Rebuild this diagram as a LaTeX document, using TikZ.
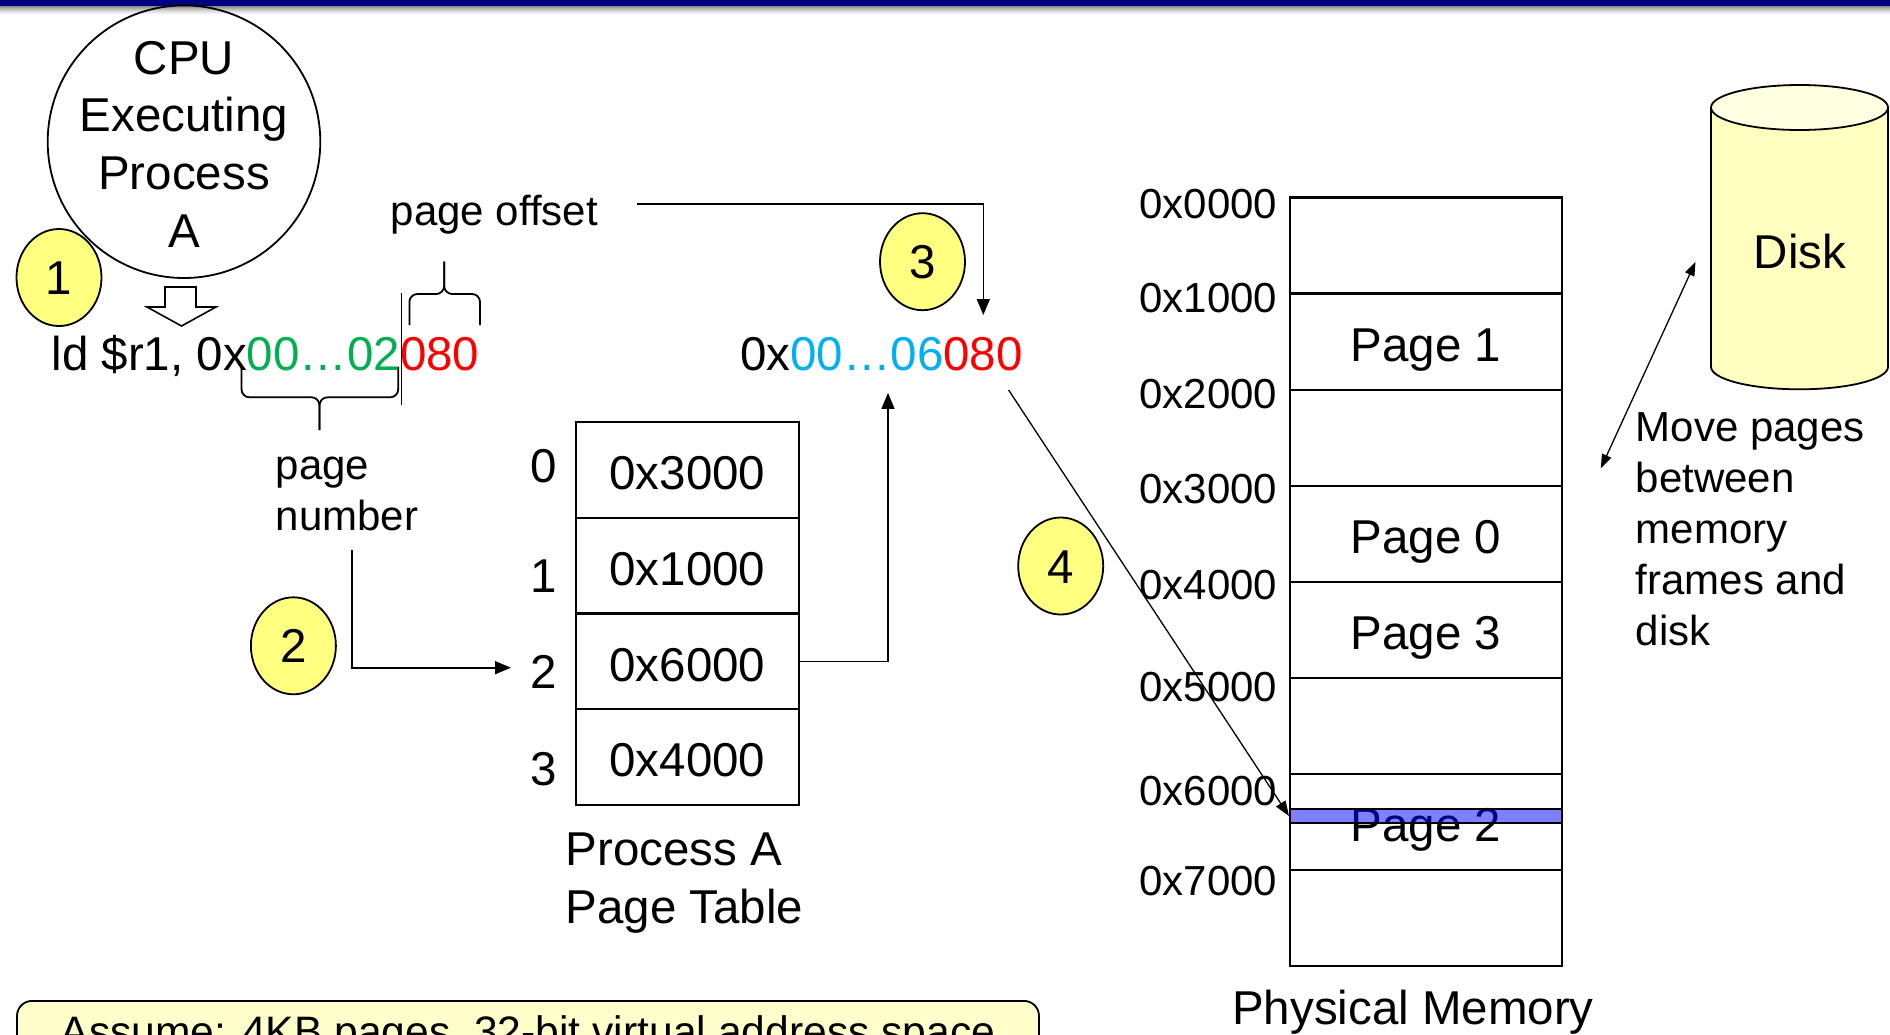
\documentclass[tikz,border=0pt]{standalone}
\usepackage{fontspec}
\setmainfont{Liberation Sans}
\usetikzlibrary{arrows.meta,shapes.geometric}
\definecolor{navy}{RGB}{0,0,128}
\definecolor{cyellow}{RGB}{255,255,128}
\definecolor{noteyellow}{RGB}{255,255,204}
\definecolor{diskside}{RGB}{255,255,192}
\definecolor{disktop}{RGB}{255,255,225}
\definecolor{agreen}{RGB}{0,176,80}
\definecolor{acyan}{RGB}{0,176,240}
\definecolor{ared}{RGB}{255,0,0}
\begin{document}
\begin{tikzpicture}[x=1pt,y=-1pt,
  big/.style={font=\fontsize{47.5}{57.7}\selectfont, inner sep=0pt},
  small/.style={font=\fontsize{42}{50.8}\selectfont, inner sep=0pt},
  numcirc/.style={draw, line width=1.8pt, fill=cyellow, ellipse, minimum width=85pt, minimum height=97pt, inner sep=0pt, font=\fontsize{47.5}{57}\selectfont, text height=34pt, text depth=0pt},
  conn/.style={line width=1.6pt, -{Triangle[length=16pt,width=13pt]}},
  ptrow/.style={draw, line width=2.4pt, minimum width=223pt, minimum height=95.75pt, inner sep=0pt},
  memrow/.style={draw, line width=2.4pt, minimum width=272pt, minimum height=96.03pt, inner sep=0pt},
  mlabel/.style={small, anchor=east, text height=30pt, text depth=0pt},
  rlabel/.style={big, text height=34pt, text depth=0pt},
  bracepath/.style={line width=1.8pt, rounded corners=8pt}
]
\useasboundingbox (0,0) rectangle (1890,1034);
\clip (0,0) rectangle (1890,1034);

% top bar with shadow
\fill[navy] (0,0) rectangle (1890,6);
\foreach \i/\g in {0/45,1/38,2/31,3/25,4/19,5/14,6/9,7/5,8/2}{
  \fill[black!\g] (0,6+\i) rectangle (1890,7+\i);
}

% CPU
\node[draw, circle, line width=1.8pt, minimum size=272.6pt, inner sep=0pt] (cpu) at (184,141.7) {};
\node[font=\fontsize{47.5}{57.7}\selectfont, align=center, inner sep=0pt] (cputext) at (184,144.2) {CPU\\Executing\\Process\\A};
\node[numcirc] (c1) at (59,277.5) {1};

% hollow arrow
\draw[line width=1.6pt, fill=white] (165,287) -- (196,287) -- (196,307) -- (216,307) -- (181.5,326) -- (147,307) -- (165,307) -- cycle;

% instruction
\node[big, anchor=base west] (instr) at (51.3,370.6) {ld \$r1, 0x\textcolor{agreen}{00…02}\textcolor{ared}{080}};
\draw[line width=1.6pt] (401.5,293) -- (401.5,405);

% braces
\draw[bracepath] (409.4,325) -- (409.4,294) -- (444.2,294) -- (444.2,261.7);
\draw[bracepath] (480,325) -- (480,294) -- (444.2,294) -- (444.2,261.7);
\draw[bracepath] (241.5,366.7) -- (241.5,397.3) -- (319.5,397.3) -- (319.5,430);
\draw[bracepath] (398.2,366.7) -- (398.2,397.3) -- (319.5,397.3) -- (319.5,430);

\node[small, anchor=base west] (poff) at (390.6,225) {page offset};
\node[small, anchor=north west, align=left, font=\fontsize{42}{51.2}\selectfont] (pnum) at (275.5,456.5) {page\\number};

% page table
\node[ptrow] (pt0) at (687.5,469.9) {};
\node[ptrow] (pt1) at (687.5,565.6) {};
\node[ptrow] (pt2) at (687.5,661.4) {};
\node[ptrow] (pt3) at (687.5,757.1) {};
\node[rlabel] (v0) at ([yshift=-2.6pt]pt0.center) {0x3000};
\node[rlabel] (v1) at ([yshift=-2.6pt]pt1.center) {0x1000};
\node[rlabel] (v2) at ([yshift=-2.6pt]pt2.center) {0x6000};
\node[rlabel] (v3) at ([yshift=-2.6pt]pt3.center) {0x4000};
\node[rlabel] (r0) at (543.6,465.5) {0};
\node[rlabel] (r1) at (543.6,575) {1};
\node[rlabel] (r2) at (543.6,671) {2};
\node[rlabel] (r3) at (543.6,768.8) {3};
\node[anchor=north west, align=left, inner sep=0pt, font=\fontsize{47.5}{58.3}\selectfont] (ptlabel) at (565.5,832.5) {Process A\\Page Table};

\node[numcirc] (c2) at (293.4,645.8) {2};
\coordinate (pn1) at (351.9,550.3);
\coordinate (pn2) at (511,667.7);
\draw[conn] (pn1) |- (pn2);

% physical address
\node[big, anchor=base west] (phys) at (740,370.6) {0x\textcolor{acyan}{00…06}\textcolor{ared}{080}};
\node[numcirc] (c3) at (922.5,261.7) {3};
\coordinate (po1) at (636.5,204);
\coordinate (po2) at (983.3,315);
\draw[conn] (po1) -| (po2);
\coordinate (ph1) at (888,392.9);
\draw[conn] (pt2.east) -| (ph1);

% physical memory
\node[memrow] (m0) at (1426,245.7) {};
\node[memrow] (m1) at (1426,341.7) {};
\node[memrow] (m2) at (1426,437.8) {};
\node[memrow] (m3) at (1426,533.8) {};
\node[memrow] (m4) at (1426,629.8) {};
\node[memrow] (m5) at (1426,725.9) {};
\node[memrow] (m6) at (1426,821.9) {};
\node[memrow] (m7) at (1426,917.9) {};
\node[rlabel] (p1) at ([yshift=-2.6pt]m1.center) {Page 1};
\node[rlabel] (p0) at ([yshift=-2.6pt]m3.center) {Page 0};
\node[rlabel] (p3) at ([yshift=-2.6pt]m4.center) {Page 3};
\node[rlabel] (p2) at ([yshift=-2.6pt]m6.center) {Page 2};
\node[draw, line width=2pt, fill=blue, fill opacity=0.5, draw opacity=1, minimum width=272pt, minimum height=14.9pt, inner sep=0pt] (band) at (1426,816) {};

\node[mlabel] (l0) at (1277.5,203.7) {0x0000};
\node[mlabel] (l1) at (1277.5,297.5) {0x1000};
\node[mlabel] (l2) at (1277.5,393.5) {0x2000};
\node[mlabel] (l3) at (1277.5,488) {0x3000};
\node[mlabel] (l4) at (1277.5,584.2) {0x4000};
\node[mlabel] (l5) at (1277.5,686.5) {0x5000};
\node[mlabel] (l6) at (1277.5,790.5) {0x6000};
\node[mlabel] (l7) at (1277.5,880) {0x7000};
\node[big, anchor=base] (physlabel) at (1413,1024.5) {Physical Memory};

\node[numcirc] (c4) at (1060.7,566) {4};
\coordinate (a4s) at (1008.6,390);
\draw[line width=1.3pt, -{Triangle[length=15pt,width=11pt]}] (a4s) -- (band.west);

% disk
\draw[line width=1.8pt, fill=diskside] (1711,107.5) -- (1711,366.8) arc[start angle=180, end angle=0, x radius=88.5, y radius=22.5] -- (1888,107.5);
\draw[line width=1.8pt, fill=disktop] (1799.5,107.5) ellipse [x radius=88.5, y radius=22.5];
\node[big, anchor=base] (disk) at (1800,268) {Disk};
\coordinate (dk1) at (1695.5,261.7);
\coordinate (dk2) at (1600.8,468.3);
\draw[line width=1.3pt, {Triangle[length=14pt,width=10pt]}-{Triangle[length=14pt,width=10pt]}] (dk1) -- (dk2);
\node[small, anchor=north west, align=left] (move) at (1635.5,412.8) {Move pages\\between\\memory\\frames and\\disk};

% note
\node[draw, line width=1.8pt, fill=noteyellow, rounded corners=15pt, anchor=north, minimum width=1022pt, inner xsep=0pt, inner ysep=15pt, text height=30.5pt, text depth=30pt, font=\fontsize{42.6}{51}\selectfont] (note) at (528,1000) {Assume: 4KB pages, 32-bit virtual address space};
\end{tikzpicture}
\end{document}
